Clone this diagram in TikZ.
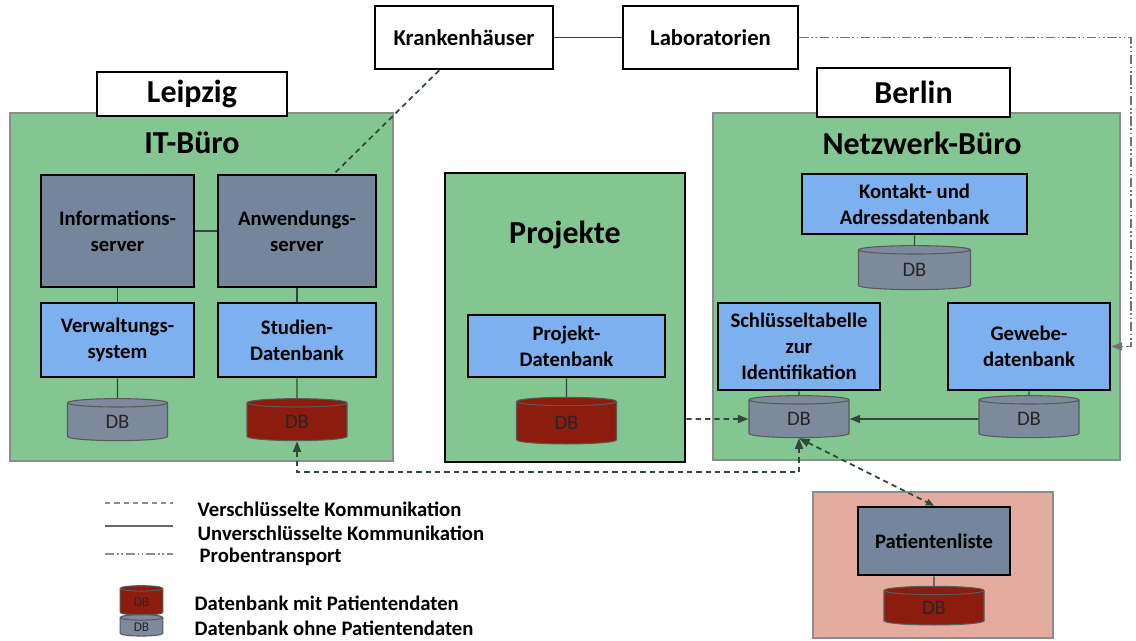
\documentclass[tikz,border=0pt]{standalone}
\usepackage{fontspec}
\setmainfont{Carlito}
\usepackage{tikz}
\usetikzlibrary{shapes.geometric,fit,arrows.meta}

\definecolor{bueroGruen}{RGB}{132,198,146}
\definecolor{serverGrau}{RGB}{117,133,156}
\definecolor{appBlau}{RGB}{124,176,238}
\definecolor{dbRot}{RGB}{140,28,14}
\definecolor{dbGrau}{RGB}{125,138,156}
\definecolor{patRosa}{RGB}{228,172,158}
\definecolor{linie}{RGB}{50,72,58}

\tikzset{
  area/.style={draw=black!45, line width=0.9pt, fill=bueroGruen, inner sep=0pt},
  groesse/.style 2 args={minimum width=#1*0.75pt, minimum height=#2*0.75pt},
  ort/.style={draw, line width=2pt, fill=white, inner sep=0pt, font=\bfseries\fontsize{24}{26}\selectfont},
  extern/.style={draw, line width=2pt, fill=white, inner sep=0pt, font=\bfseries\fontsize{17}{19}\selectfont},
  titel/.style={font=\bfseries\fontsize{24}{26}\selectfont},
  box/.style={draw, line width=2pt, inner sep=0pt, align=center, font=\bfseries\fontsize{15.5}{19.5}\selectfont},
  srv/.style={box, fill=serverGrau},
  app/.style={box, fill=appBlau},
  db/.style={cylinder, shape border rotate=90, aspect=0.35, draw=black!65, line width=0.8pt,
    minimum width=75pt, minimum height=31.5pt, inner sep=0pt, text=black!85, font=\fontsize{15.5}{18}\selectfont},
  dbrot/.style={db, fill=dbRot},
  dbgrau/.style={db, fill=dbGrau},
  verb/.style={draw=linie, line width=0.8pt},
  vdash/.style={draw=linie, line width=1.3pt, dash pattern=on 4pt off 3pt},
  probe/.style={draw=black!55, line width=1pt, dash pattern=on 7pt off 2pt on 1.2pt off 2pt on 1.2pt off 2pt},
  legtext/.style={anchor=west, font=\bfseries\fontsize{15.5}{18}\selectfont}
}

\begin{document}
\begin{tikzpicture}[x=0.75pt,y=-0.75pt]
\useasboundingbox (0,0) rectangle (1136,641);

\node[area, fit={(10,113)(393,461)}] (leipzig) {};
\node[area, fit={(713,113)(1120,460)}] (berlin) {};
\node[area, draw=black, line width=2pt, fit={(445,173)(685,462)}] (projekte) {};
\node[area, fill=patRosa, fit={(813,492)(1053,638)}] (patient) {};

\node[extern, groesse={178}{63}] (krank) at (464,37.5) {Krankenhäuser};
\node[extern, groesse={175}{63}] (labor) at (710.5,37.5) {Laboratorien};

\node[ort, groesse={190}{44}] (lpz) at (192,94) {Leipzig};
\node[titel] (itbuero) at (192,143) {IT-Büro};
\node[srv, groesse={153}{112}] (info) at (117.5,231) {Informations-\\server};
\node[srv, groesse={158}{112}] (anw) at (297,231) {Anwendungs-\\server};
\node[app, groesse={153}{74}] (verw) at (117.5,340) {Verwaltungs-\\system};
\node[app, groesse={158}{74}] (stud) at (297,340) {Studien-\\Datenbank};
\node[dbgrau] (lpzdbeins) at (117.5,422) {DB};
\node[dbrot] (lpzdbzwei) at (297,422) {DB};

\node[titel] (projtitel) at (565,235) {Projekte};
\node[app, groesse={197}{62}] (projdb) at (566.5,346) {Projekt-\\Datenbank};
\node[dbrot, minimum height=35pt] (projcyl) at (566.5,423) {DB};

\node[ort, groesse={193}{49}] (ber) at (913.5,92.5) {Berlin};
\node[titel] (netz) at (922,143) {Netzwerk-Büro};
\node[app, groesse={225}{60}] (kontakt) at (914.5,204) {Kontakt- und\\Adressdatenbank};
\node[dbgrau, minimum width=84pt, minimum height=33pt] (kontaktdb) at (914.5,270) {DB};
\node[app, groesse={162}{87}] (schl) at (799,346.5) {Schlüsseltabelle\\zur\\Identifikation};
\node[app, groesse={162}{87}] (gewebe) at (1029,346.5) {Gewebe-\\datenbank};
\node[dbgrau] (schldb) at (799,419) {DB};
\node[dbgrau] (gewdb) at (1029,419) {DB};

\node[srv, groesse={152}{68}] (patliste) at (934,541) {Patientenliste};
\node[dbrot, minimum height=29pt] (patdb) at (934,608) {DB};

\coordinate (rand) at (1131,37.5);
\coordinate (unten) at (0,472);

\draw[verb, draw=black!75, line width=1.2pt] (krank) -- (labor);
\draw[verb] (info) -- (anw);
\draw[verb] (info.south) -- (verw.north);
\draw[verb] (anw.south) -- (stud.north);
\draw[verb] (verw) -- (lpzdbeins);
\draw[verb] (stud.south) -- (lpzdbzwei);
\draw[verb] (projdb) -- (projcyl);
\draw[verb] (kontakt.south) -- (kontaktdb);
\draw[verb] (schl.south) -- (schldb);
\draw[verb] (gewebe.south) -- (gewdb);
\draw[verb] (patliste) -- (patdb);
\draw[verb, line width=1.2pt, -{Triangle[length=8pt,width=6pt]}] (gewdb) -- (schldb);

\draw[vdash] (krank.-127) -- (anw.57);
\draw[vdash, -{Triangle[length=8pt,width=6pt]}] (projekte.east |- schldb) -- (schldb);
\draw[vdash, {Triangle[length=8pt,width=6pt]}-{Triangle[length=8pt,width=6pt]}] (lpzdbzwei.south) |- (schldb.south |- unten) -- (schldb.south);
\draw[vdash, {Triangle[length=8pt,width=6pt]}-{Triangle[length=6pt,width=5pt]}] (schldb.south) -- (patliste.north);
\draw[probe, -{Triangle[length=8pt,width=6pt]}] (labor) -- (rand) |- (gewebe.east);

\draw[vdash, draw=black!45, line width=1pt] (105,503) -- (173,503);
\draw[verb, draw=black!60, line width=1.2pt] (105,526) -- (173,526);
\draw[probe, draw=black!45] (105,554) -- (173,554);
\node[legtext] (legeins) at (193,509) {Verschlüsselte Kommunikation};
\node[legtext] (legzwei) at (193,533) {Unverschlüsselte Kommunikation};
\node[legtext] (legdrei) at (195,557) {Probentransport};
\node[dbrot, minimum width=32pt, minimum height=22pt, font=\fontsize{10}{11}\selectfont] (legdbrot) at (141.5,602) {DB};
\node[dbgrau, minimum width=32pt, minimum height=16pt, font=\fontsize{10}{11}\selectfont] (legdbgrau) at (141.5,627) {DB};
\node[legtext] (legvier) at (190,603) {Datenbank mit Patientendaten};
\node[legtext] (legfuenf) at (190,628) {Datenbank ohne Patientendaten};
\end{tikzpicture}
\end{document}
